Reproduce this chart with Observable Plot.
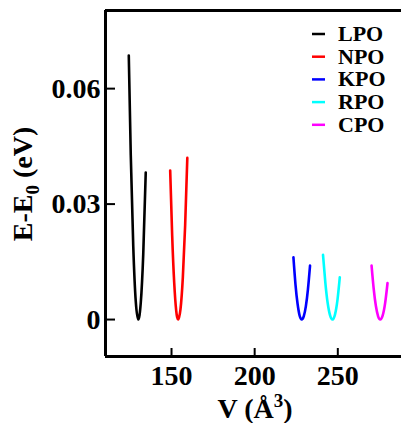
<!DOCTYPE html>
<html>
<head>
<meta charset="utf-8">
<script src="https://cdn.jsdelivr.net/npm/d3@7"></script>
<script src="https://cdn.jsdelivr.net/npm/@observablehq/plot@0.6"></script>
<style>
  html, body { margin: 0; padding: 0; background: #fff; }
  #chart svg { display: block; }
</style>
</head>
<body>
<div id="chart"></div>
<script>
// ---- data ----
const seriesNames = ["LPO", "NPO", "KPO", "RPO", "CPO"];
const seriesColors = ["#000000", "#ff0000", "#0000ff", "#00ffff", "#ff00ff"];

const lpoV = [124.3, 125.5, 127.0, 128.5, 130.0, 131.5, 133.0, 134.5];
const lpoE = [0.0686, 0.0427, 0.0190, 0.0047, 0.0, 0.0043, 0.0170, 0.0382];

const npoV = [149.2, 150.4, 151.6, 152.8, 154.0, 155.4, 156.8, 158.2, 159.5];
const npoE = [0.0387, 0.0218, 0.0097, 0.0024, 0.0, 0.0027, 0.0109, 0.0245, 0.0420];

const kpoV = [223.3, 224.55, 225.8, 227.05, 228.3, 229.55, 230.8, 232.05, 233.3];
const kpoE = [0.0162, 0.0091, 0.0041, 0.0010, 0.0, 0.0009, 0.0035, 0.0079, 0.0140];

const rpoV = [241.1, 242.5, 243.9, 245.4, 246.8, 248.3, 249.8, 251.2];
const rpoE = [0.0168, 0.0096, 0.0043, 0.0010, 0.0, 0.0013, 0.0051, 0.0110];

const cpoV = [270.3, 271.6, 272.9, 274.2, 275.5, 277.0, 278.5, 279.9];
const cpoE = [0.0140, 0.0079, 0.0035, 0.0009, 0.0, 0.0011, 0.0044, 0.0095];

const xTicks = [150, 200, 250];
const yTicks = [0, 0.03, 0.06];
const xDomain = [110.3, 288.3];
const yDomain = [-0.0096, 0.0803];

const allV = [lpoV, npoV, kpoV, rpoV, cpoV];
const allE = [lpoE, npoE, kpoE, rpoE, cpoE];
const table = [];
seriesNames.forEach((name, i) => {
  allV[i].forEach((v, j) => table.push({series: name, V: v, E: allE[i][j]}));
});

const W = 401, H = 423;
const mL = 105, mR = 0, mT = 10, mB = 67;
const fw = W - mL - mR, fh = H - mT - mB;
const FONT = "'Liberation Serif', 'Times New Roman', serif";

const plot = Plot.plot({
  width: W,
  height: H,
  marginLeft: mL,
  marginRight: mR,
  marginTop: mT,
  marginBottom: mB,
  style: {fontFamily: FONT, fontSize: "28px", fontWeight: "bold", color: "#000", background: "#fff", overflow: "visible"},
  x: {domain: xDomain},
  y: {domain: yDomain},
  color: {domain: seriesNames, range: seriesColors},
  marks: [
    Plot.axisX({ticks: xTicks, tickSize: 0, tickPadding: 9, label: null, fontSize: 28, fontWeight: "bold"}),
    Plot.axisY({ticks: yTicks, tickSize: 0, tickPadding: 5, label: null, fontSize: 28,
      tickFormat: d => d === 0 ? "0" : d.toFixed(2)}),
    Plot.tickX(xTicks, {x: d => d, insetTop: fh - 8, stroke: "#000", strokeWidth: 2}),
    Plot.tickY(yTicks, {y: d => d, insetRight: fw - 10, stroke: "#000", strokeWidth: 2}),
    Plot.ruleX([xDomain[0]], {stroke: "#000", strokeWidth: 3}),
    Plot.ruleY([yDomain[0], yDomain[1]], {stroke: "#000", strokeWidth: 3}),
    Plot.line(table, {x: "V", y: "E", z: "series", stroke: "series", strokeWidth: 2.6, curve: "natural"})
  ]
});

document.getElementById("chart").appendChild(plot);

// ---- axis titles and legend ----
const svg = d3.select(plot);
const yl = svg.append("text")
  .attr("transform", "translate(32,184) rotate(-90)")
  .attr("text-anchor", "middle")
  .attr("font-family", FONT).attr("font-weight", "bold").attr("font-size", 28).attr("fill", "#000");
yl.append("tspan").text("E-E");
yl.append("tspan").attr("font-size", 19).attr("dy", 7).text("0");
yl.append("tspan").attr("dy", -7).text(" (eV)");

const xl = svg.append("text")
  .attr("x", 255).attr("y", 418)
  .attr("text-anchor", "middle")
  .attr("font-family", FONT).attr("font-weight", "bold").attr("font-size", 28).attr("fill", "#000");
xl.append("tspan").text("V (Å");
xl.append("tspan").attr("font-size", 19).attr("dy", -11).text("3");
xl.append("tspan").attr("dy", 11).text(")");

const leg = svg.append("g").attr("text-anchor", "start");
seriesNames.forEach((name, i) => {
  const base = 41 + i * 22.7;
  leg.append("line")
    .attr("x1", 312).attr("x2", 325)
    .attr("y1", base - 7).attr("y2", base - 7)
    .attr("stroke", seriesColors[i]).attr("stroke-width", 2.5);
  leg.append("text")
    .attr("x", 338).attr("y", base)
    .attr("text-anchor", "start")
    .attr("font-family", FONT).attr("font-weight", "bold").attr("font-size", 22).attr("fill", "#000")
    .text(name);
});
</script>
</body>
</html>
